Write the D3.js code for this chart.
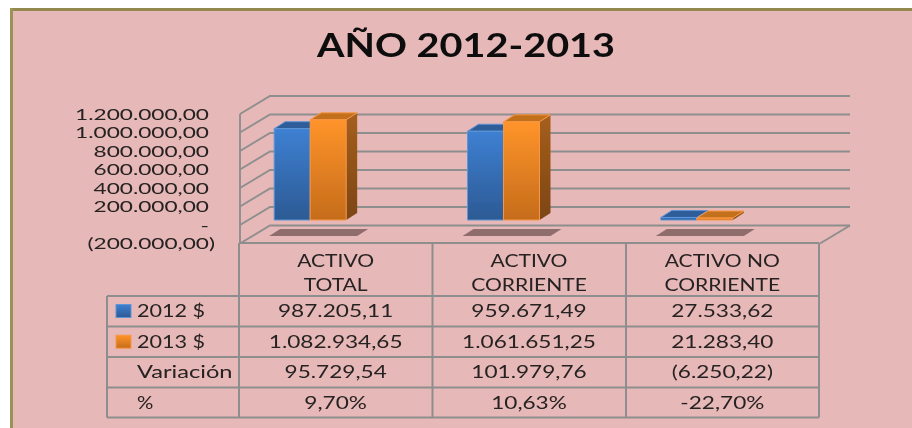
<!DOCTYPE html>
<html><head><meta charset="utf-8">
<script src="https://cdn.jsdelivr.net/npm/d3@7/dist/d3.min.js"></script>
<style>html,body{margin:0;padding:0;background:#fff;overflow:hidden}svg{display:block}</style>
</head><body><svg id="c" width="912" height="428"></svg>
<script>
const title = "AÑO 2012-2013";
const categories = [["ACTIVO","TOTAL"],["ACTIVO","CORRIENTE"],["ACTIVO NO","CORRIENTE"]];
const seriesNames = ["2012 $","2013 $"];
const values2012 = [987205.11,959671.49,27533.62];
const values2013 = [1082934.65,1061651.25,21283.40];
const tickValues = [-200000,0,200000,400000,600000,800000,1000000,1200000];
const tickLabels = ["(200.000,00)","-","200.000,00","400.000,00","600.000,00","800.000,00","1.000.000,00","1.200.000,00"];
const rowLabels = ["2012 $","2013 $","Variación","%"];
const row2012 = ["987.205,11","959.671,49","27.533,62"];
const row2013 = ["1.082.934,65","1.061.651,25","21.283,40"];
const rowVariacion = ["95.729,54","101.979,76","(6.250,22)"];
const rowPercent = ["9,70%","10,63%","-22,70%"];

const svg = d3.select("#c");
const FONT = "Lato, 'Open Sans', sans-serif", INK = "#262222", GRID = "#8e8e8e";
const defs = svg.append("defs");
function grad(id, a, b){
  const g = defs.append("linearGradient").attr("id",id).attr("x1",0).attr("y1",0).attr("x2",0).attr("y2",1);
  g.append("stop").attr("offset","0%").attr("stop-color",a);
  g.append("stop").attr("offset","100%").attr("stop-color",b);
}
grad("gBlue","#3e80d2","#2c5a94");
grad("gOrange","#ff942a","#c56c1b");
grad("gOrangeSide","#a65f1c","#7c4512");
grad("gBlueSide","#2f6099","#224a7a");
defs.append("filter").attr("id","soft").attr("x","-5%").attr("y","-5%").attr("width","110%").attr("height","110%")
  .append("feGaussianBlur").attr("stdDeviation",0.45);
defs.append("filter").attr("id","shadow").attr("x","-10%").attr("y","-50%").attr("width","120%").attr("height","200%")
  .append("feGaussianBlur").attr("stdDeviation",0.7);

// background frame
svg.append("rect").attr("x",10).attr("y",8).attr("width",902).attr("height",420).attr("fill","#e6b8b7");
svg.append("rect").attr("x",10).attr("y",8).attr("width",902).attr("height",3).attr("fill","#93894f");
svg.append("rect").attr("x",10).attr("y",8).attr("width",3).attr("height",420).attr("fill","#9c9258");

const root = svg.append("g").attr("filter","url(#soft)");

// stretched text helper
function label(sel, x, y, str, o={}){
  return sel.append("text").attr("transform",`translate(${x},${y}) scale(${o.sx||1.33},1)`)
    .attr("text-anchor",o.anchor||"middle").attr("font-family",FONT)
    .attr("font-size",o.size||17).attr("font-weight",o.weight||400).attr("fill",o.fill||INK).text(str);
}

label(root,466,57,title,{size:33,weight:700,sx:1.2,fill:"#0c0c0c"});

// scales: y on the back wall
const yBack = d3.scaleLinear().domain([-200000,1200000]).range([225.5,96]);
const depthX = 30, depthY = 18, wallBack = 270, wallRight = 850;
const yFront = v => yBack(v)+depthY;
const colEdges = [239,432.5,626,819];
const xCol = d3.scaleBand().domain(d3.range(categories.length)).range([colEdges[0],colEdges[3]]);

// gridlines
const grid = root.append("g").attr("fill","none").attr("stroke",GRID).attr("stroke-width",1.9);
tickValues.forEach(v=>{
  grid.append("polyline").attr("points",[[wallBack-depthX,yFront(v)],[wallBack,yBack(v)],[wallRight,yBack(v)]].join(" "));
});
grid.append("line").attr("x1",240).attr("x2",240).attr("y1",yFront(1200000)).attr("y2",yFront(-200000));
grid.append("line").attr("x1",wallRight).attr("x2",820).attr("y1",yBack(-200000)).attr("y2",yFront(-200000));

// y axis
const axis = d3.axisLeft(d3.scaleLinear().domain(yBack.domain()).range([yFront(-200000),yFront(1200000)]))
  .tickValues(tickValues).tickSize(0).tickFormat((d,i)=>tickLabels[i]);
const axG = root.append("g").attr("transform","translate(209,0)").call(axis);
axG.select(".domain").remove();
axG.selectAll("text").attr("x",0).attr("dy",0).attr("text-anchor","end")
  .attr("font-family",FONT).attr("font-size",15.2).attr("fill",INK)
  .attr("transform",(d,i)=>`translate(${i===0?6:0},5) scale(1.49,1)`);

// shadows
const shadows = root.append("g").attr("filter","url(#shadow)");
const shadowPath = d3.line();
categories.forEach((c,i)=>{
  const cx = xCol(i)+xCol.bandwidth()/2-17.5;
  shadows.append("path").attr("fill","#8f6d6d").attr("d",shadowPath([[cx-38,229],[cx+50,229],[cx+39,236],[cx-49,236]])+"Z");
});

// bars
const dx = 11, dy = 7, barW = 36;
const plane = v => yBack(v)+13;
const xSeries = d3.scaleBand().domain([0,1]).range([-barW,barW]);
const palette = [
  {front:"url(#gBlue)",top:"#2d5d99",side:"url(#gBlueSide)",stroke:"#5f95d6"},
  {front:"url(#gOrange)",top:"#c2701f",side:"url(#gOrangeSide)",stroke:"#f79646"}
];
categories.forEach((c,i)=>{
  const cx = xCol(i)+xCol.bandwidth()/2-25.5;
  [values2012[i],values2013[i]].forEach((v,s)=>{
    const p = palette[s], x = cx+xSeries(s), w = xSeries.bandwidth(), t = plane(v), b = plane(0);
    const g = root.append("g").attr("stroke",p.stroke).attr("stroke-width",1).attr("stroke-linejoin","round");
    g.append("path").attr("fill",p.side).attr("stroke","none").attr("d",shadowPath([[x+w,t],[x+w+dx,t-dy],[x+w+dx,b-dy],[x+w,b]])+"Z");
    g.append("path").attr("fill",p.top).attr("d",shadowPath([[x,t],[x+dx,t-dy],[x+w+dx,t-dy],[x+w,t]])+"Z");
    g.append("rect").attr("x",x).attr("y",t).attr("width",w).attr("height",Math.max(b-t,1)).attr("fill",p.front);
  });
});

// data table
const rowEdges = [243,296,326.5,357,387.5,417.5];
const table = root.append("g").attr("stroke",GRID).attr("stroke-width",2).attr("fill","none");
rowEdges.slice(1).forEach(y=>table.append("line").attr("x1",107).attr("x2",819).attr("y1",y).attr("y2",y));
table.append("line").attr("x1",239).attr("x2",819).attr("y1",243).attr("y2",243);
colEdges.forEach(x=>table.append("line").attr("x1",x).attr("x2",x).attr("y1",243).attr("y2",417.5));
table.append("line").attr("x1",107).attr("x2",107).attr("y1",296).attr("y2",417.5);

categories.forEach((c,i)=>{
  const cx = xCol(i)+xCol.bandwidth()/2;
  label(root,cx,267,c[0],{sx:1.24,size:17});
  label(root,cx,291,c[1],{sx:1.24,size:17});
});
const baselines = [317,348,378,409];
const rowLabelStretch = [1.27,1.27,1.39,1.2];
[row2012,row2013,rowVariacion,rowPercent].forEach((row,r)=>{
  label(root,137,baselines[r],rowLabels[r],{anchor:"start",sx:rowLabelStretch[r]});
  row.forEach((t,i)=>label(root,xCol(i)+xCol.bandwidth()/2,baselines[r],t));
});
// legend keys
seriesNames.forEach((n,s)=>{
  const p = palette[s];
  root.append("rect").attr("x",116).attr("y",rowEdges[1]+8.5+s*30.7).attr("width",15).attr("height",13)
    .attr("fill",p.front).attr("stroke",p.stroke).attr("stroke-width",1);
});
</script></body></html>
